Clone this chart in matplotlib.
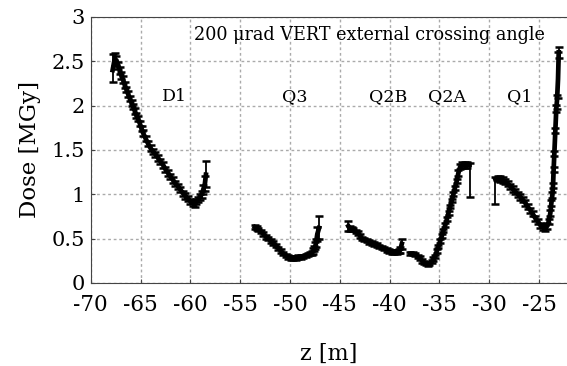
import numpy as np
import matplotlib.pyplot as plt

plt.rcParams['font.family'] = ['DejaVu Serif']
plt.rcParams['axes.unicode_minus'] = False

# dose profile, one block per magnet
z_d1 = [-67.8, -67.6, -67.42, -67.25, -67.09, -66.92, -66.75, -66.58, -66.41, -66.25,
        -66.08, -65.9, -65.75, -65.58, -65.41, -65.25, -65.08, -64.9, -64.74, -64.5,
        -64.24, -64.0, -63.74, -63.5, -63.24, -63.0, -62.73, -62.5, -62.23, -62.0,
        -61.73, -61.5, -61.23, -61.0, -60.72, -60.5, -60.22, -60.0, -59.72, -59.55,
        -59.39, -59.2, -59.05, -58.85, -58.71, -58.54, -58.44]
d_d1 = [2.40, 2.52, 2.51, 2.45, 2.40, 2.34, 2.29, 2.23, 2.18, 2.13,
        2.08, 2.03, 1.99, 1.94, 1.89, 1.85, 1.80, 1.74, 1.69, 1.63,
        1.57, 1.52, 1.48, 1.45, 1.41, 1.37, 1.33, 1.28, 1.24, 1.20,
        1.16, 1.12, 1.09, 1.05, 1.01, 0.98, 0.95, 0.92, 0.90, 0.89,
        0.92, 0.94, 0.97, 1.00, 1.05, 1.12, 1.22]
lo_d1 = [0.13, 0.07, 0.05, 0.04, 0.04, 0.04, 0.04, 0.03, 0.03, 0.03,
         0.03, 0.03, 0.03, 0.03, 0.03, 0.03, 0.03, 0.03, 0.03, 0.03,
         0.03, 0.03, 0.03, 0.03, 0.03, 0.03, 0.03, 0.03, 0.03, 0.03,
         0.03, 0.03, 0.03, 0.03, 0.03, 0.03, 0.03, 0.03, 0.03, 0.03,
         0.03, 0.03, 0.03, 0.04, 0.05, 0.08, 0.14]
hi_d1 = [0.18, 0.07, 0.05, 0.04, 0.04, 0.04, 0.04, 0.03, 0.03, 0.03,
         0.03, 0.03, 0.03, 0.03, 0.03, 0.03, 0.03, 0.03, 0.03, 0.03,
         0.03, 0.03, 0.03, 0.03, 0.03, 0.03, 0.03, 0.03, 0.03, 0.03,
         0.03, 0.03, 0.03, 0.03, 0.03, 0.03, 0.03, 0.03, 0.03, 0.03,
         0.03, 0.03, 0.03, 0.04, 0.05, 0.08, 0.16]

z_q3 = [-53.52, -53.35, -53.18, -52.9, -52.68, -52.4, -52.18, -51.9, -51.68, -51.4,
        -51.17, -50.9, -50.67, -50.4, -50.17, -49.9, -49.67, -49.4, -49.16, -48.9,
        -48.66, -48.4, -48.16, -47.95, -47.82, -47.66, -47.56, -47.45, -47.39, -47.26,
        -47.08]
d_q3 = [0.63, 0.62, 0.60, 0.58, 0.55, 0.52, 0.50, 0.47, 0.45, 0.42,
        0.39, 0.36, 0.33, 0.31, 0.29, 0.28, 0.28, 0.28, 0.29, 0.29,
        0.30, 0.31, 0.32, 0.33, 0.34, 0.36, 0.39, 0.42, 0.45, 0.55,
        0.62]
e_q3 = [0.02, 0.02, 0.02, 0.02, 0.02, 0.02, 0.02, 0.02, 0.02, 0.02,
        0.02, 0.02, 0.02, 0.02, 0.02, 0.02, 0.02, 0.02, 0.02, 0.02,
        0.02, 0.02, 0.02, 0.02, 0.02, 0.03, 0.03, 0.04, 0.05, 0.08,
        0.13]

z_q2b = [-44.14, -43.97, -43.8, -43.64, -43.4, -43.13, -42.95, -42.8, -42.55, -42.29,
         -42.05, -41.8, -41.55, -41.3, -41.05, -40.79, -40.55, -40.29, -40.05, -39.79,
         -39.55, -39.28, -39.1, -38.94, -38.78]
d_q2b = [0.64, 0.61, 0.61, 0.60, 0.58, 0.56, 0.53, 0.50, 0.49, 0.48,
         0.46, 0.45, 0.44, 0.43, 0.41, 0.40, 0.39, 0.37, 0.36, 0.35,
         0.35, 0.35, 0.36, 0.37, 0.44]
e_q2b = [0.06, 0.03, 0.02, 0.02, 0.02, 0.02, 0.02, 0.02, 0.02, 0.02,
         0.02, 0.02, 0.02, 0.02, 0.02, 0.02, 0.02, 0.02, 0.02, 0.02,
         0.02, 0.02, 0.02, 0.03, 0.06]

z_q2a = [-37.94, -37.7, -37.44, -37.2, -36.93, -36.75, -36.6, -36.4, -36.2, -36.0,
         -35.77, -35.6, -35.43, -35.26, -35.1, -34.93, -34.76, -34.6, -34.42, -34.25,
         -34.09, -33.92, -33.76, -33.6, -33.45, -33.26, -33.1, -32.92, -32.7, -32.45,
         -32.25, -31.98]
d_q2a = [0.33, 0.33, 0.32, 0.30, 0.28, 0.25, 0.23, 0.22, 0.21, 0.22,
         0.24, 0.27, 0.30, 0.36, 0.41, 0.47, 0.53, 0.59, 0.65, 0.72,
         0.79, 0.86, 0.93, 1.00, 1.07, 1.15, 1.24, 1.31, 1.33, 1.33,
         1.33, 1.33]
lo_q2a = [0.02, 0.02, 0.02, 0.02, 0.02, 0.02, 0.02, 0.02, 0.02, 0.02,
          0.02, 0.02, 0.02, 0.02, 0.02, 0.02, 0.02, 0.02, 0.02, 0.02,
          0.02, 0.02, 0.02, 0.02, 0.02, 0.02, 0.03, 0.03, 0.03, 0.03,
          0.03, 0.36]
hi_q2a = [0.02, 0.02, 0.02, 0.02, 0.02, 0.02, 0.02, 0.02, 0.02, 0.02,
          0.02, 0.02, 0.02, 0.02, 0.02, 0.02, 0.02, 0.02, 0.02, 0.02,
          0.02, 0.02, 0.02, 0.02, 0.02, 0.02, 0.03, 0.03, 0.03, 0.03,
          0.03, 0.02]

z_q1 = [-29.40, -29.15, -28.9, -28.65, -28.39, -28.15, -27.89, -27.65, -27.39, -27.15,
        -26.88, -26.65, -26.38, -26.15, -25.88, -25.65, -25.38, -25.1, -24.87, -24.6,
        -24.37, -24.2, -24.04, -23.87, -23.77, -23.67, -23.6, -23.54, -23.47, -23.37,
        -23.27, -23.2, -23.1, -23.03]
d_q1 = [1.17, 1.18, 1.17, 1.16, 1.14, 1.12, 1.09, 1.06, 1.03, 1.00,
        0.97, 0.94, 0.90, 0.86, 0.82, 0.78, 0.73, 0.69, 0.65, 0.63,
        0.62, 0.64, 0.69, 0.79, 0.90, 0.99, 1.10, 1.28, 1.46, 1.72,
        1.97, 2.06, 2.30, 2.60]
lo_q1 = [0.28, 0.03, 0.03, 0.03, 0.03, 0.03, 0.03, 0.03, 0.03, 0.03,
         0.03, 0.03, 0.03, 0.03, 0.03, 0.03, 0.03, 0.03, 0.03, 0.03,
         0.03, 0.03, 0.03, 0.03, 0.03, 0.03, 0.03, 0.03, 0.03, 0.03,
         0.04, 0.10, 0.22, 0.06]
hi_q1 = [0.02, 0.03, 0.03, 0.03, 0.03, 0.03, 0.03, 0.03, 0.03, 0.03,
         0.03, 0.03, 0.03, 0.03, 0.03, 0.03, 0.03, 0.03, 0.03, 0.03,
         0.03, 0.03, 0.03, 0.03, 0.03, 0.03, 0.03, 0.03, 0.03, 0.03,
         0.04, 0.06, 0.30, 0.06]

labels = ['D1', 'Q3', 'Q2B', 'Q2A', 'Q1']
label_z = [-61.6, -49.5, -40.2, -34.2, -26.9]
label_y = 2.1

fig = plt.figure(figsize=(5.67, 3.66), dpi=100)
ax = fig.add_axes([0.16, 0.227, 0.84, 0.727])

segs = [(z_d1, d_d1, [lo_d1, hi_d1]), (z_q3, d_q3, e_q3), (z_q2b, d_q2b, e_q2b),
        (z_q2a, d_q2a, [lo_q2a, hi_q2a]), (z_q1, d_q1, [lo_q1, hi_q1])]
for z, d, e in segs:
    ax.errorbar(z, d, yerr=e, fmt='-', color='black', lw=3.4, elinewidth=1.3,
                capsize=3, capthick=1.8)

for name, zx in zip(labels, label_z):
    ax.text(zx, label_y, name, ha='center', va='center', fontsize=12.5)
ax.text(-42.0, 2.8, '200 μrad VERT external crossing angle', ha='center',
        va='center', fontsize=12.7)

ax.set_xlim(-70, -22.2)
ax.set_ylim(0, 3)
ax.set_xticks(np.arange(-70, -22, 5))
ax.set_yticks([0, 0.5, 1, 1.5, 2, 2.5, 3])
ax.set_yticklabels(['0', '0.5', '1', '1.5', '2', '2.5', '3'])
ax.tick_params(direction='in', length=3, width=0.8, color='#444444')
ax.tick_params(axis='x', labelsize=15.5, pad=8)
ax.tick_params(axis='y', labelsize=15, pad=4)
ax.grid(True, color='#aaaaaa', ls=(0, (2, 2)), lw=1)
ax.spines['right'].set_visible(False)
for s in ['left', 'bottom', 'top']:
    ax.spines[s].set_color('#444444')
ax.set_xlabel('z [m]', fontsize=16, labelpad=19)
ax.set_ylabel('Dose [MGy]', fontsize=16.5, labelpad=8)

fig.savefig('out.png', dpi=100)
